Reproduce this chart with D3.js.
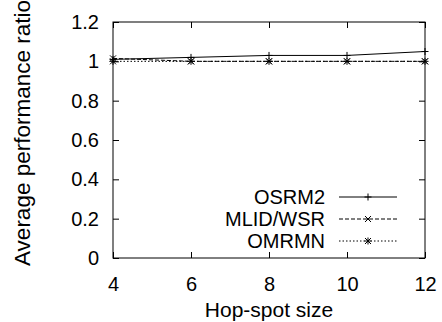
<!DOCTYPE html>
<html>
<head>
<meta charset="utf-8">
<script src="https://cdn.jsdelivr.net/npm/d3@7"></script>
<style>
  body { margin: 0; background: #fff; }
  text { font-family: "Liberation Sans", Arial, sans-serif; fill: #000; }
</style>
</head>
<body>
<div id="chart"></div>
<script>
// data
const hopSizes = [4, 6, 8, 10, 12];
const osrm2 = [1.01, 1.02, 1.03, 1.03, 1.05];
const mlidWsr = [1.015, 1.0, 1.0, 1.0, 1.0];
const omrmn = [1.0, 1.0, 1.0, 1.0, 1.0];
const xTicks = [4, 6, 8, 10, 12];
const yTicks = [0, 0.2, 0.4, 0.6, 0.8, 1, 1.2];

const series = [
  { name: "OSRM2", values: osrm2, dash: null, mark: "plus" },
  { name: "MLID/WSR", values: mlidWsr, dash: "4,2", mark: "cross" },
  { name: "OMRMN", values: omrmn, dash: "1.5,2", mark: "star" }
];

const width = 442, height = 322;
const margin = { left: 113, right: 17, top: 22, bottom: 64 };

const svg = d3.select("#chart").append("svg")
  .attr("width", width)
  .attr("height", height);

const x = d3.scaleLinear().domain([4, 12]).range([margin.left, width - margin.right]);
const y = d3.scaleLinear().domain([0, 1.2]).range([height - margin.bottom, margin.top]);

const fmt = d => (d === 0 || d === 1) ? String(d) : d3.format(".1f")(d);

// axes with inward ticks on all four sides
svg.append("g")
  .attr("transform", `translate(0,${y(0)})`)
  .call(d3.axisBottom(x).tickValues(xTicks).tickSize(-6).tickPadding(19))
  .call(g => g.select(".domain").remove());
svg.append("g")
  .attr("transform", `translate(0,${y(1.2)})`)
  .call(d3.axisTop(x).tickValues(xTicks).tickSize(-6).tickFormat(""))
  .call(g => g.select(".domain").remove());
svg.append("g")
  .attr("transform", `translate(${x(4)},0)`)
  .call(d3.axisLeft(y).tickValues(yTicks).tickSize(-6).tickPadding(14).tickFormat(fmt))
  .call(g => g.select(".domain").remove());
svg.append("g")
  .attr("transform", `translate(${x(12)},0)`)
  .call(d3.axisRight(y).tickValues(yTicks).tickSize(-6).tickFormat(""))
  .call(g => g.select(".domain").remove());

svg.selectAll(".tick line").attr("stroke", "#000");
svg.selectAll(".tick text").style("font-size", "20px").attr("fill", "#000");

svg.append("rect")
  .attr("x", x(4)).attr("y", y(1.2))
  .attr("width", x(12) - x(4)).attr("height", y(0) - y(1.2))
  .attr("fill", "none").attr("stroke", "#000").attr("stroke-width", 1);

// marker shapes
function drawMark(g, cx, cy, kind) {
  const s = 3.5;
  if (kind === "plus" || kind === "star") {
    g.append("path").attr("d", `M${cx - s},${cy}H${cx + s}M${cx},${cy - s}V${cy + s}`)
      .attr("stroke", "#000").attr("stroke-width", 1);
  }
  if (kind === "cross" || kind === "star") {
    const t = 3;
    g.append("path").attr("d", `M${cx - t},${cy - t}L${cx + t},${cy + t}M${cx - t},${cy + t}L${cx + t},${cy - t}`)
      .attr("stroke", "#000").attr("stroke-width", 1);
  }
}

const line = d3.line().x((d, i) => x(hopSizes[i])).y(d => y(d));

series.forEach(s => {
  const g = svg.append("g");
  g.append("path")
    .attr("d", line(s.values))
    .attr("fill", "none")
    .attr("stroke", "#000")
    .attr("stroke-width", 1)
    .attr("stroke-dasharray", s.dash);
  s.values.forEach((v, i) => drawMark(g, x(hopSizes[i]), y(v), s.mark));
});

// legend
const legend = svg.append("g");
series.forEach((s, i) => {
  const ly = 197 + i * 22;
  legend.append("text")
    .attr("x", 325).attr("y", ly)
    .attr("dy", "0.35em")
    .attr("text-anchor", "end")
    .style("font-size", "20px")
    .text(s.name);
  legend.append("line")
    .attr("x1", 339).attr("x2", 397).attr("y1", ly).attr("y2", ly)
    .attr("stroke", "#000").attr("stroke-width", 1)
    .attr("stroke-dasharray", s.dash);
  drawMark(legend, 368, ly, s.mark);
});

// axis titles
svg.append("text")
  .attr("x", (x(4) + x(12)) / 2).attr("y", 317)
  .attr("text-anchor", "middle")
  .style("font-size", "21px")
  .text("Hop-spot size");

svg.append("text")
  .attr("transform", `translate(30,133) rotate(-90)`)
  .attr("text-anchor", "middle")
  .style("font-size", "22.5px")
  .text("Average performance ratio");
</script>
</body>
</html>
